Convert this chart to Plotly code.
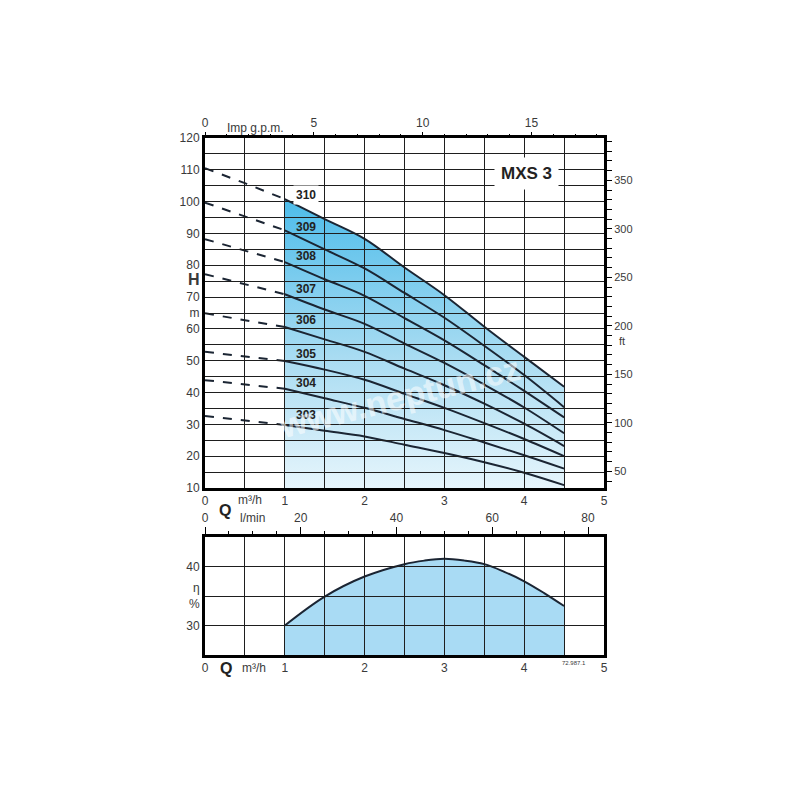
import plotly.graph_objects as go

# ---------------- data ----------------
Q_DASH = [0, 0.5, 1]
Q_SOLID = [1, 1.5, 2, 2.5, 3, 3.5, 4, 4.5]
MODELS = ["303", "304", "305", "306", "307", "308", "309", "310"]
# head (m) at Q = 0, 0.5, 1, 1.5, 2, 2.5, 3, 3.5, 4, 4.5 m3/h
HEAD = {
    "310": [110.5, 105.8, 100.8, 94.5, 88.3, 79.3, 70.6, 60.7, 51.2, 41.8],
    "309": [99.7, 95.4, 91.0, 85.0, 79.0, 71.3, 63.5, 54.7, 45.5, 35.4],
    "308": [88.2, 84.5, 81.0, 75.6, 70.4, 63.4, 56.4, 48.6, 40.5, 32.2],
    "307": [77.2, 74.0, 70.9, 66.1, 61.6, 55.4, 49.3, 42.5, 35.3, 27.2],
    "306": [64.9, 62.8, 60.6, 56.7, 52.8, 47.5, 42.3, 36.5, 30.2, 23.2],
    "305": [52.8, 51.3, 49.9, 47.2, 44.0, 39.6, 35.2, 30.4, 25.4, 20.0],
    "304": [43.9, 42.6, 41.2, 38.2, 35.2, 31.7, 28.2, 24.3, 20.3, 16.1],
    "303": [32.6, 31.2, 29.8, 28.0, 26.2, 23.6, 21.0, 18.1, 14.8, 10.9],
}
LABEL_Q = 1.27
LABEL_H = {"310": 102.1, "309": 92.1, "308": 82.9, "307": 72.4,
           "306": 62.8, "305": 52.1, "304": 43.0, "303": 32.9}
EFF_Q = [1, 1.5, 2, 2.5, 2.75, 3, 3.25, 3.5, 3.75, 4, 4.25, 4.5]
EFF = [30.0, 34.9, 38.3, 40.4, 41.0, 41.3, 41.0, 40.4, 39.1, 37.5, 35.5, 33.3]

X_TICKS = [0, 0.5, 1, 1.5, 2, 2.5, 3, 3.5, 4, 4.5, 5]
X_TEXT = ["0", "", "1", "", "2", "", "3", "", "4", "", "5"]
H_TICKS = list(range(10, 125, 5))
H_TEXT = [str(v) if v % 10 == 0 else "" for v in H_TICKS]
H_TEXT[H_TICKS.index(75)] = '<span style="font-size:16px"><b>H</b></span>'
H_TEXT[H_TICKS.index(65)] = "m"
GPM_TICKS = [0, 5, 10, 15]
FT_TICKS = [50, 100, 150, 200, 250, 300, 350]
LMIN_TICKS = [0, 20, 40, 60, 80]
ETA_TICKS = [30, 35, 40]
ETA_TEXT = ["30", "η<br>%", "40"]

GPM_PER_M3H = 3.6662
FT_PER_M = 3.28084
LMIN_PER_M3H = 1000 / 60

FONT = "Liberation Sans, Arial, sans-serif"
LINE_C = "#1b2533"
GRID_C = "#1e1e1e"
TICK_FONT = dict(family=FONT, size=12, color="#3a3a3a")

TOP_DOM = [0.323, 1.0]
BOT_DOM = [0.0, 0.2282]

fig = go.Figure()

# fill under the highest curve (top chart)
top = HEAD["310"]
fig.add_trace(go.Scatter(
    x=Q_SOLID, y=top[2:], xaxis="x", yaxis="y", mode="lines",
    line=dict(width=0, shape="spline"), fill="tozeroy",
    fillgradient=dict(type="vertical", start=10, stop=101,
                      colorscale=[[0, "#e6f5fc"], [0.45, "#a9dcf2"], [1, "#4dbcea"]]),
    hoverinfo="skip", showlegend=False))

for m in MODELS:
    h = HEAD[m]
    fig.add_trace(go.Scatter(x=Q_DASH, y=h[:3], xaxis="x", yaxis="y", mode="lines",
                             line=dict(color=LINE_C, width=2, dash="dash"),
                             showlegend=False, hoverinfo="skip"))
    fig.add_trace(go.Scatter(x=Q_SOLID, y=h[2:], xaxis="x", yaxis="y", mode="lines",
                             line=dict(color=LINE_C, width=2, shape="spline"),
                             name=m, showlegend=False))

# efficiency
fig.add_trace(go.Scatter(x=EFF_Q, y=EFF, xaxis="x2", yaxis="y2", mode="lines",
                         line=dict(color=LINE_C, width=2, shape="spline"),
                         fill="tozeroy", fillcolor="#a9dbf4", showlegend=False))

# dummy traces so that grid / secondary axes are drawn
for xa, ya in [("x3", "y3"), ("x4", "y4"), ("x5", "y3"), ("x3", "y5"), ("x6", "y4")]:
    fig.add_trace(go.Scatter(x=[None], y=[None], xaxis=xa, yaxis=ya, mode="markers",
                             showlegend=False, hoverinfo="skip"))

hidden = dict(visible=False, showgrid=False, zeroline=False)
grid_common = dict(showgrid=True, gridcolor=GRID_C, gridwidth=1.2, zeroline=False,
                   showline=True, linecolor="black", linewidth=3, mirror=True,
                   ticks="", tickfont=TICK_FONT, tickmode="array")

# page body has an 8px offset: plot area in the page spans x 205..604, y 138..655
fig.update_layout(
    width=800, height=800, autosize=False,
    margin=dict(l=197, r=204, t=130, b=153),
    paper_bgcolor="white", plot_bgcolor="rgba(0,0,0,0)",
    font=dict(family=FONT, color="#333"),
    showlegend=False,
    # data axes
    xaxis=dict(domain=[0, 1], anchor="y", range=[0, 5], **hidden),
    yaxis=dict(domain=TOP_DOM, anchor="x", range=[10, 120], **hidden),
    xaxis2=dict(domain=[0, 1], anchor="y2", range=[0, 5], **hidden),
    yaxis2=dict(domain=BOT_DOM, anchor="x2", range=[25, 45], **hidden),
    # grid axes (drawn above the fills)
    xaxis3=dict(domain=[0, 1], anchor="y3", range=[0, 5],
                tickvals=X_TICKS, ticktext=X_TEXT, **grid_common),
    yaxis3=dict(domain=TOP_DOM, anchor="x3", range=[10, 120],
                tickvals=H_TICKS, ticktext=H_TEXT, **grid_common),
    xaxis4=dict(domain=[0, 1], anchor="y4", range=[0, 5],
                tickvals=X_TICKS, ticktext=X_TEXT, **grid_common),
    yaxis4=dict(domain=BOT_DOM, anchor="x4", range=[25, 45],
                tickvals=ETA_TICKS, ticktext=ETA_TEXT, **grid_common),
    # Imp g.p.m. (top)
    xaxis5=dict(overlaying="x3", anchor="y3", side="top",
                range=[0, 5 * GPM_PER_M3H], tickmode="array", tickvals=GPM_TICKS,
                ticks="outside", ticklen=5, tickwidth=1.2, tickcolor="black",
                minor=dict(dtick=1, tick0=0, ticks="outside", ticklen=3, tickcolor="black", tickwidth=1),
                showgrid=False, zeroline=False, showline=False, tickfont=TICK_FONT),
    # ft (right)
    yaxis5=dict(overlaying="y3", anchor="x3", side="right",
                range=[10 * FT_PER_M, 120 * FT_PER_M], tickmode="array", tickvals=FT_TICKS,
                ticks="outside", ticklen=7, tickwidth=1.2, tickcolor="black",
                minor=dict(dtick=10, tick0=0, ticks="outside", ticklen=7, tickcolor="black", tickwidth=1),
                showgrid=False, zeroline=False, showline=False,
                tickfont=dict(family=FONT, size=11, color="#3a3a3a")),
    # l/min (top of efficiency chart)
    xaxis6=dict(overlaying="x4", anchor="y4", side="top",
                range=[0, 5 * LMIN_PER_M3H], tickmode="array", tickvals=LMIN_TICKS,
                ticks="outside", ticklen=9, tickwidth=1.2, tickcolor="black",
                minor=dict(dtick=5, tick0=0, ticks="outside", ticklen=5, tickcolor="black", tickwidth=1),
                showgrid=False, zeroline=False, showline=False, tickfont=TICK_FONT),
)

ann = []
for m in MODELS:
    ann.append(dict(x=LABEL_Q, y=LABEL_H[m], xref="x3", yref="y3", text=f"<b>{m}</b>",
                    showarrow=False, font=dict(family=FONT, size=12, color="#222"),
                    bgcolor="white" if m == "310" else None, borderpad=2))
ann.append(dict(x=4.03, y=109.0, xref="x3", yref="y3", text="<b>MXS 3</b>", showarrow=False,
                font=dict(family=FONT, size=17, color="#222"), bgcolor="white", borderpad=6))
ann.append(dict(x=2.44, y=38.5, xref="x3", yref="y3", text="<b>www.neptun.cz</b>",
                showarrow=False, textangle=-14,
                font=dict(family=FONT, size=34, color="rgba(255,255,255,0.55)")))


def pap(px, py, text, size=12, color="#3a3a3a"):
    return dict(x=(px - 205) / 399, y=(655 - py) / 517, xref="paper", yref="paper",
                text=text, showarrow=False, font=dict(family=FONT, size=size, color=color),
                xanchor="center", yanchor="middle")


ann += [
    pap(255, 128, "Imp g.p.m.", 12),
    pap(250, 500, "m³/h", 12),
    pap(225, 510, "<b>Q</b>", 16, "#222"),
    pap(252, 518, "l/min", 12),
    pap(622, 341, "ft", 11),
    pap(226, 668, "<b>Q</b>", 16, "#222"),
    pap(254, 668, "m³/h", 12),
    pap(574, 663, "72.987.1", 6),
]
fig.update_layout(annotations=ann)

fig.write_html("out.html")
